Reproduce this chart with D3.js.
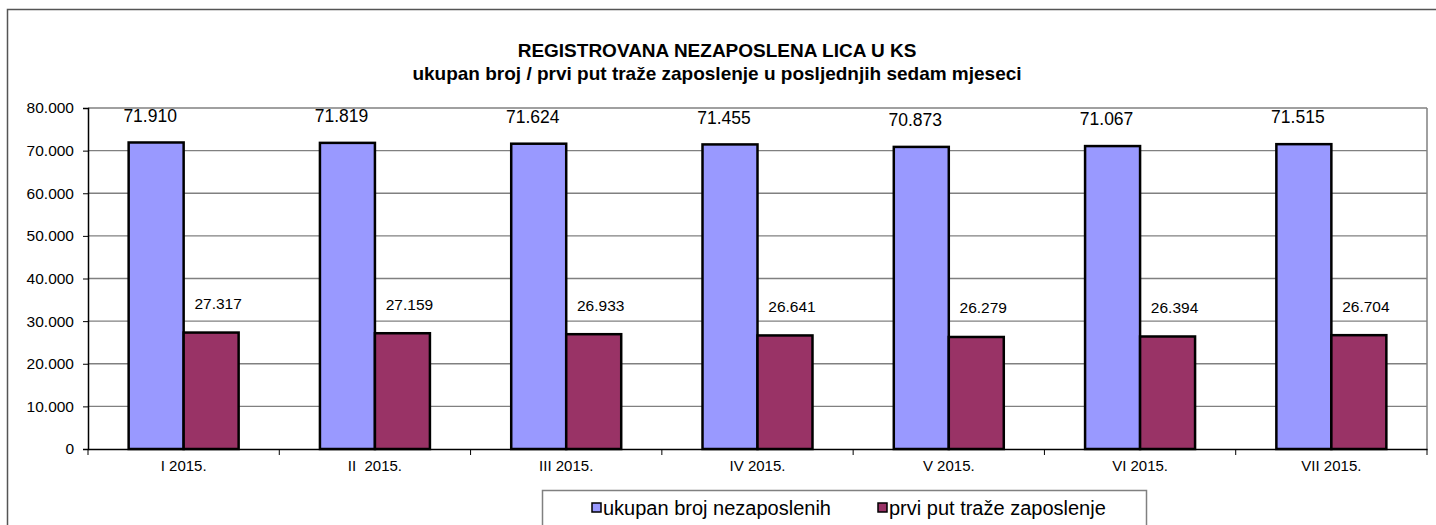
<!DOCTYPE html>
<html>
<head>
<meta charset="utf-8">
<script src="https://cdn.jsdelivr.net/npm/d3@7"></script>
<style>
  body { margin: 0; background: #fff; }
  text { font-family: "Liberation Sans", Arial, sans-serif; fill: #000; }
</style>
</head>
<body>
<script>
var months = ["I 2015.", "II  2015.", "III 2015.", "IV 2015.", "V 2015.", "VI 2015.", "VII 2015."];
var ukupno = [71910, 71819, 71624, 71455, 70873, 71067, 71515];
var prviPut = [27317, 27159, 26933, 26641, 26279, 26394, 26704];
var seriesNames = ["ukupan broj nezaposlenih", "prvi put traže zaposlenje"];
var yTicks = [0, 10000, 20000, 30000, 40000, 50000, 60000, 70000, 80000];

function main(){
    var width = 1436, height = 525;
    var left = 88, right = 1427, top = 108, bottom = 449;
    var colors = ["#9999ff", "#993366"];

    var fmt = function(v){
        return v == 0 ? "0" : d3.format(",")(v).replace(/,/g, ".");
    };

    var svg = d3.select("body").append("svg")
        .attr("width", width)
        .attr("height", height);

    // outer frame
    svg.append("rect")
        .attr("x", 7.5).attr("y", 9.5)
        .attr("width", 1440).attr("height", 540)
        .attr("fill", "none").attr("stroke", "#555").attr("stroke-width", 1.5);

    // title
    svg.append("text").attr("x", 717).attr("y", 57)
        .attr("text-anchor", "middle").attr("font-size", 19).attr("font-weight", "bold")
        .text("REGISTROVANA NEZAPOSLENA LICA U KS");
    svg.append("text").attr("x", 717).attr("y", 80)
        .attr("text-anchor", "middle").attr("font-size", 19).attr("font-weight", "bold")
        .text("ukupan broj / prvi put traže zaposlenje u posljednjih sedam mjeseci");

    var x = d3.scaleBand().domain(months).range([left, right]).paddingInner(0).paddingOuter(0);
    var y = d3.scaleLinear().domain([0, 80000]).range([bottom, top]);

    var groupW = x.bandwidth() * 110 / 191.3;
    var x1 = d3.scaleBand().domain([0, 1]).range([0, groupW]);

    // gridlines
    svg.append("g").selectAll("line")
        .data(yTicks.filter(function(d){ return d > 0; }))
        .enter().append("line")
        .attr("x1", left).attr("x2", right)
        .attr("y1", function(d){ return y(d); }).attr("y2", function(d){ return y(d); })
        .attr("stroke", "#808080").attr("stroke-width", 1.3);

    // plot border right
    svg.append("line").attr("x1", right).attr("x2", right).attr("y1", top).attr("y2", bottom)
        .attr("stroke", "#808080").attr("stroke-width", 1.5);

    // y axis
    var yAxis = svg.append("g").attr("transform", "translate(" + left + ",0)")
        .call(d3.axisLeft(y).tickValues(yTicks).tickFormat(fmt).tickSize(5).tickPadding(9));
    yAxis.select(".domain").attr("stroke", "#000").attr("stroke-width", 1.5);
    yAxis.selectAll("text").attr("font-size", 15.5).attr("font-family", "Liberation Sans, Arial, sans-serif");

    // x axis
    var xAxis = svg.append("g").attr("transform", "translate(0," + bottom + ")")
        .call(d3.axisBottom(x).tickSize(0).tickPadding(11));
    xAxis.select(".domain").attr("stroke", "#000").attr("stroke-width", 1.5);
    xAxis.selectAll("text").attr("font-size", 15).attr("font-family", "Liberation Sans, Arial, sans-serif")
        .style("white-space", "pre");
    xAxis.selectAll(".tickmark").data(d3.range(months.length + 1))
        .enter().append("line").attr("class", "tickmark")
        .attr("x1", function(i){ return left + i * x.bandwidth(); })
        .attr("x2", function(i){ return left + i * x.bandwidth(); })
        .attr("y1", 0).attr("y2", 6)
        .attr("stroke", "#000").attr("stroke-width", 1);

    var rows = months.map(function(m, i){ return {m: m, v: [ukupno[i], prviPut[i]]}; });

    var grp = svg.selectAll("g.cat").data(rows).enter().append("g")
        .attr("class", "cat")
        .attr("transform", function(d){
            return "translate(" + (x(d.m) + (x.bandwidth() - groupW) / 2) + ",0)";
        });

    grp.selectAll("rect").data(function(d){ return d.v; })
        .enter().append("rect")
        .attr("x", function(d, i){ return x1(i); })
        .attr("y", function(d){ return y(d); })
        .attr("width", x1.bandwidth())
        .attr("height", function(d){ return bottom - y(d); })
        .attr("fill", function(d, i){ return colors[i]; })
        .attr("stroke", "#000").attr("stroke-width", 2.5);

    var labelOff = [27, 29];
    var labelDx = [-6, 7];
    grp.selectAll("text.val").data(function(d){ return d.v; })
        .enter().append("text").attr("class", "val")
        .attr("x", function(d, i){ return x1(i) + x1.bandwidth() / 2 + labelDx[i]; })
        .attr("y", function(d, i){ return y(d) - labelOff[i]; })
        .attr("dy", "0.35em")
        .attr("text-anchor", "middle")
        .attr("font-size", function(d, i){ return i == 0 ? 17.5 : 15.5; })
        .text(fmt);

    // legend
    var lg = svg.append("g");
    lg.append("rect").attr("x", 542.5).attr("y", 490.5).attr("width", 604).attr("height", 60)
        .attr("fill", "#fff").attr("stroke", "#808080").attr("stroke-width", 1.5);
    var lx = [592, 878];
    seriesNames.forEach(function(n, i){
        lg.append("rect").attr("x", lx[i]).attr("y", 503).attr("width", 9).attr("height", 9)
            .attr("fill", colors[i]).attr("stroke", "#000").attr("stroke-width", 1.5);
        lg.append("text").attr("x", lx[i] + 11).attr("y", 515)
            .attr("font-size", 20).text(n);
    });
}
main();
</script>
</body>
</html>
